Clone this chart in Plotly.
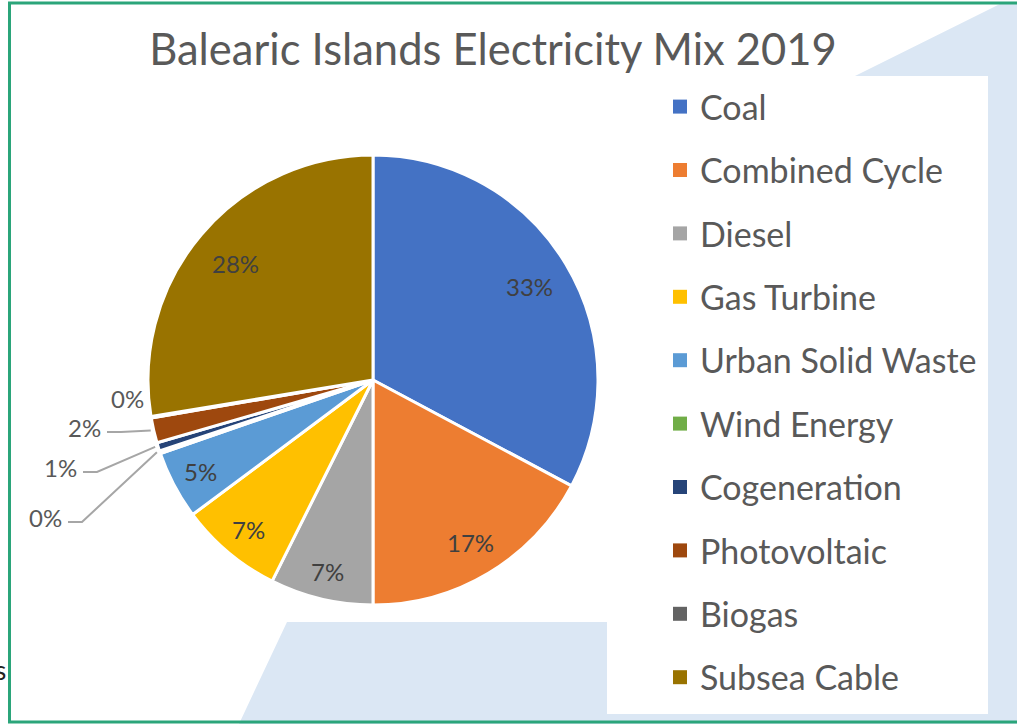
import math
import plotly.graph_objects as go

W, H = 1017, 724

title_text = "Balearic Islands Electricity Mix 2019"
labels = ["Coal", "Combined Cycle", "Diesel", "Gas Turbine", "Urban Solid Waste",
          "Wind Energy", "Cogeneration", "Photovoltaic", "Biogas", "Subsea Cable"]
values = [32.8, 17.2, 7.4, 7.4, 4.9, 0.2, 0.6, 1.8, 0.1, 27.6]
colors = ["#4472C4", "#ED7D31", "#A5A5A5", "#FFC000", "#5B9BD5",
          "#70AD47", "#264478", "#9E480E", "#636363", "#997300"]
# small slices labelled outside with leader lines (label centre in px)
outside_labels = {"Wind Energy": (45, 517), "Cogeneration": (60, 467),
                  "Photovoltaic": (84, 427), "Biogas": (127, 398)}
# radial position (fraction of radius) of the inside labels
inside_r = {"Coal": 0.81, "Combined Cycle": 0.84, "Diesel": 0.875, "Gas Turbine": 0.865,
            "Urban Solid Waste": 0.865, "Subsea Cable": 0.80}

FONT = "Lato, 'Noto Sans', sans-serif"
TXT = "#595959"

def px(x):
    return x / W

def py(y):
    return 1 - y / H

# pie geometry (pixels)
CX, CY, R = 373, 380, 225

total = sum(values)
pct = [v / total for v in values]

fig = go.Figure()
fig.add_trace(go.Pie(
    labels=labels, values=values, sort=False, direction="clockwise", rotation=0,
    marker=dict(colors=colors, line=dict(color="white", width=3)),
    textinfo="none", textposition="none",
    domain=dict(x=[px(CX - R), px(CX + R)], y=[py(CY + R), py(CY - R)]),
    showlegend=False, hoverinfo="label+percent",
))

# legend entries (one per category, so they can be spaced out)
for lab, col in zip(labels, colors):
    fig.add_trace(go.Scatter(
        x=[None], y=[None], mode="markers", name=lab, legendgroup=lab,
        marker=dict(symbol="square", size=14, color=col), hoverinfo="skip",
    ))

shapes = []
# light blue background shape
blue_pts = [(239, 724), (287, 622), (855, 622), (855, 76), (1000, 4), (1017, 4), (1017, 724)]
path = "M " + " L ".join(f"{px(x):.5f},{py(y):.5f}" for x, y in blue_pts) + " Z"
shapes.append(dict(type="path", xref="paper", yref="paper", path=path,
                   fillcolor="#DBE7F4", line=dict(width=0), layer="below"))
# white legend panel
shapes.append(dict(type="rect", xref="paper", yref="paper", x0=px(607), x1=px(988),
                   y0=py(714), y1=py(76), fillcolor="white", line=dict(width=0), layer="below"))
# green border
shapes.append(dict(type="rect", xref="paper", yref="paper", x0=px(9.5), x1=px(1030),
                   y0=py(722), y1=py(3), fillcolor="rgba(0,0,0,0)",
                   line=dict(color="#2BA57A", width=3), layer="above"))

annotations = []
cum = 0.0
for lab, p in zip(labels, pct):
    mid = cum + p / 2
    cum += p
    ang = 2 * math.pi * mid
    txt = f"{round(p*100):.0f}%"
    if lab in inside_r:
        rr = R * inside_r[lab]
        annotations.append(dict(x=px(CX + rr * math.sin(ang)), y=py(CY - rr * math.cos(ang)),
                                xref="paper", yref="paper", text=txt, showarrow=False,
                                xanchor="center", yanchor="middle",
                                font=dict(family=FONT, size=24, color="#404040")))
        continue
    ex = CX + R * math.sin(ang)
    ey = CY - R * math.cos(ang)
    lx, ly = outside_labels[lab]
    annotations.append(dict(x=px(lx), y=py(ly), xref="paper", yref="paper",
                            text=txt, showarrow=False, xanchor="center", yanchor="middle",
                            font=dict(family=FONT, size=24, color=TXT)))
    if lab == "Biogas":
        continue
    sx, sy = lx + 23, ly + 5
    kx = sx + 14
    lp = f"M {px(sx):.5f},{py(sy):.5f} L {px(kx):.5f},{py(sy):.5f} L {px(ex - 3):.5f},{py(ey):.5f}"
    shapes.append(dict(type="path", xref="paper", yref="paper", path=lp,
                       line=dict(color="#A6A6A6", width=2)))

# stray cropped text at the left edge
annotations.append(dict(x=0, y=py(670), xref="paper", yref="paper", text="s",
                        xanchor="left", yanchor="middle", showarrow=False, xshift=-7,
                        font=dict(family=FONT, size=26, color="#222222")))

fig.update_layout(
    width=W, height=H,
    margin=dict(l=0, r=0, t=0, b=0, autoexpand=False),
    paper_bgcolor="white", plot_bgcolor="rgba(0,0,0,0)",
    title=dict(text=title_text, x=px(493), xanchor="center", y=py(50), yanchor="middle",
               font=dict(family=FONT, size=43.5, color=TXT)),
    xaxis=dict(visible=False), yaxis=dict(visible=False),
    legend=dict(x=px(660), xanchor="left", y=py(78), yanchor="top",
                xref="container", yref="container", maxheight=700,
                font=dict(family=FONT, size=34, color=TXT),
                tracegroupgap=16.2, bgcolor="rgba(0,0,0,0)", itemclick=False),
    shapes=shapes, annotations=annotations,
)

fig.write_html("out.html", post_script="document.body.style.margin='0';",
               config={"displayModeBar": False})
